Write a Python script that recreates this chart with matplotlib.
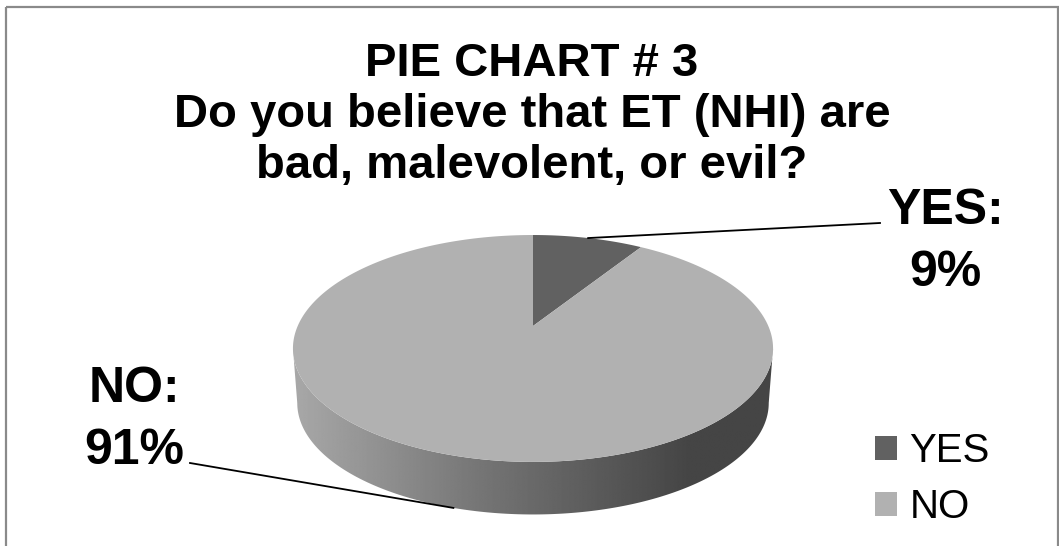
import numpy as np
import matplotlib
matplotlib.use('Agg')
import matplotlib.pyplot as plt
from matplotlib.patches import Polygon, Rectangle, Patch

plt.rcParams['font.family'] = ['Liberation Sans', 'DejaVu Sans']

# === DATA ===
labels = ['YES', 'NO']
values = [9, 91]
colors = ['#616161', '#b1b1b1']
title = 'PIE CHART # 3\nDo you believe that ET (NHI) are\nbad, malevolent, or evil?'

# === 3D pie geometry (pixel space) ===
CX, CY = 533, 326       # apex of the top face
A, B = 235.3, 109       # radii before perspective
P = 0.198               # perspective strength
DEPTH = 55              # thickness of the side
BOT_S = 0.982           # bottom ellipse a touch narrower

def proj(t, dy=0, s=1.0):
    x, y = np.cos(t), np.sin(t)
    return CX + s * A * x / (1 + P * y), CY + dy - s * B * y / (1 + P * y)

fig = plt.figure(figsize=(10.59, 5.46), dpi=100)
ax = fig.add_axes([0, 0, 1, 1])
ax.set_xlim(0, 1059)
ax.set_ylim(546, 0)
ax.axis('off')

# outer frame
ax.add_patch(Rectangle((6, 7), 1052, 560, fill=False, edgecolor='#8a8a8a', lw=1.6))

# side wall (front half), shaded light -> dark
t0 = np.pi + np.arcsin(P)
t1 = 2 * np.pi - np.arcsin(P)
ts = np.linspace(t0, t1, 300)
tx, ty = proj(ts)
bx, by = proj(ts, dy=DEPTH, s=BOT_S)
side = Polygon(np.r_[np.c_[tx, ty], np.c_[bx, by][::-1]], closed=True,
               facecolor='none', edgecolor='none')
ax.add_patch(side)
grad_x = np.linspace(tx.min(), tx.max(), 400)
shade = np.interp(grad_x, [292, 480, 690, 775], [0.66, 0.46, 0.27, 0.27])
img = ax.imshow(shade[None, :], cmap='gray', vmin=0, vmax=1, aspect='auto',
                extent=[tx.min(), tx.max(), by.max() + 2, ty.min() - 2],
                interpolation='bilinear', zorder=2)
img.set_clip_path(side)

# top face wedges, clockwise from 12 o'clock
total = sum(values)
start = np.pi / 2
mids = []
for v, col in zip(values, colors):
    span = 2 * np.pi * v / total
    tt = np.linspace(start, start - span, max(int(v * 4), 20))
    px, py = proj(tt)
    ax.add_patch(Polygon(np.r_[[[CX, CY]], np.c_[px, py]], closed=True,
                         facecolor=col, edgecolor='none', zorder=3))
    mids.append(start - span / 2)
    start -= span

# title
ax.text(532, 42, title, ha='center', va='top', fontsize=34, fontweight='bold',
        linespacing=1.21, zorder=5)

# data labels with leader lines (y = baseline of the last line)
lab_pos = [(945, 286), (134, 464)]
line_end = [(880, 223), (190, 463)]
for i, (lab, v) in enumerate(zip(labels, values)):
    lx, ly = lab_pos[i]
    ax.text(lx, ly, f'{lab}:\n{v}%', ha='center', va='baseline', fontsize=36,
            fontweight='bold', linespacing=1.45, zorder=5)
    m = mids[i]
    on_side = np.sin(m) < 0
    mx, my = proj(m, dy=DEPTH if on_side else 0, s=BOT_S if on_side else 1)
    ex, ey = line_end[i]
    ax.plot([mx, ex], [my, ey], color='black', lw=1.3, zorder=4)

# legend
handles = [Patch(facecolor=c, edgecolor='none') for c in colors]
ax.legend(handles, labels, loc='upper left', bbox_to_anchor=(855 / 1059, 1 - 412 / 546),
          frameon=False, fontsize=29, handlelength=0.55, handleheight=0.55,
          handletextpad=0.3, labelspacing=0.45, borderpad=0)

fig.savefig('out.png', dpi=100)
